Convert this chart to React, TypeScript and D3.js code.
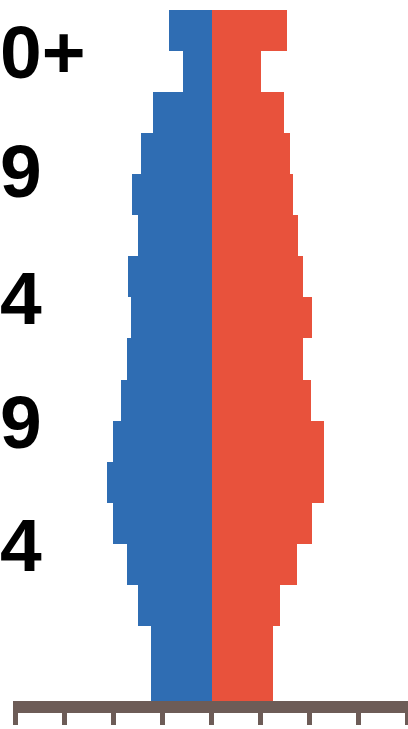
import React from "react";
import * as d3 from "d3";

const ageGroups = ["0-4","5-9","10-14","15-19","20-24","25-29","30-34","35-39","40-44","45-49","50-54","55-59","60-64","65-69","70-74","75-79","80+"];
const maleValues = [1.23, 1.23, 1.50, 1.72, 2.01, 2.13, 2.01, 1.85, 1.72, 1.64, 1.70, 1.50, 1.62, 1.44, 1.19, 0.58, 0.87];
const femaleValues = [1.26, 1.26, 1.40, 1.74, 2.05, 2.30, 2.30, 2.03, 1.87, 2.05, 1.87, 1.77, 1.66, 1.60, 1.48, 1.01, 1.54];
const xTicks = [-4, -3, -2, -1, 0, 1, 2, 3, 4];
const labelTexts = ["0+", "9", "4", "9", "4"];
const labelAges = [80, 65.5, 50, 35, 20];

const W = 408;
const H = 729;

export default function App() {
  const x = d3.scaleLinear().domain([-4, 4]).range([15.5, 407.5]);
  const y = d3.scaleBand<string>().domain(ageGroups).range([708, 10]).paddingInner(0).paddingOuter(0);
  const yAge = d3.scaleLinear().domain([0, 85]).range([708, 10]);
  const bw = y.bandwidth();
  const blue = "#2f6db3";
  const red = "#e8523c";
  const axisColor = "#6d5c57";
  const cx = Math.round(x(0));
  return (
    <svg width={W} height={H} style={{ position: "absolute", left: 0, top: 0, background: "#fff" }}>
      <rect x={0} y={0} width={W} height={H} fill="#ffffff" />
      <g shapeRendering="crispEdges">
        {ageGroups.map((a, i) => {
          const y0 = Math.round(y(a)!);
          const y1 = Math.round(y(a)! + bw);
          const xl = Math.round(x(-maleValues[i]));
          const xr = Math.round(x(femaleValues[i]));
          return (
            <g key={a}>
              <rect x={xl} y={y0} width={cx - xl} height={y1 - y0} fill={blue} />
              <rect x={cx} y={y0} width={xr - cx} height={y1 - y0} fill={red} />
            </g>
          );
        })}
        <rect x={x(-4) - 2.5} y={700.5} width={x(4) - x(-4) + 5} height={12.5} fill={axisColor} />
        {xTicks.map((t) => (
          <rect key={t} x={x(t) - 2.5} y={712} width={5} height={13} fill={axisColor} />
        ))}
      </g>
      {labelTexts.map((t, i) => (
        <text
          key={i}
          x={0}
          y={yAge(labelAges[i]) + 27}
          fontFamily="'Liberation Sans', Arial, sans-serif"
          fontWeight="bold"
          fontSize={75}
          fill="#000"
        >
          {t}
        </text>
      ))}
    </svg>
  );
}
